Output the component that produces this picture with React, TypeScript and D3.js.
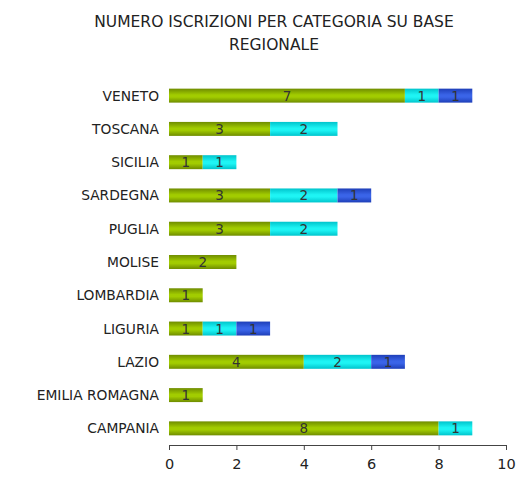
import React, { useEffect, useRef } from "react";
import * as d3 from "d3";

const regions = [
  "VENETO",
  "TOSCANA",
  "SICILIA",
  "SARDEGNA",
  "PUGLIA",
  "MOLISE",
  "LOMBARDIA",
  "LIGURIA",
  "LAZIO",
  "EMILIA ROMAGNA",
  "CAMPANIA",
];
const seriesA = [7, 3, 1, 3, 3, 2, 1, 1, 4, 1, 8];
const seriesB = [1, 2, 1, 2, 2, 0, 0, 1, 2, 0, 1];
const seriesC = [1, 0, 0, 1, 0, 0, 0, 1, 1, 0, 0];
const xTicks = [0, 2, 4, 6, 8, 10];

const colors = [
  { id: "gA", edge: "#6f8c00", mid: "#a2cc00" },
  { id: "gB", edge: "#00c4cc", mid: "#1ef4f4" },
  { id: "gC", edge: "#1e3fb8", mid: "#3a64e8" },
];

const App: React.FC = () => {
  const svgRef = useRef<SVGSVGElement>(null);

  useEffect(() => {
    if (!svgRef.current) return;
    const svg = d3.select(svgRef.current);
    svg.selectAll("*").remove();

    const margin = { top: 79, left: 169 };
    const axisY = 445;
    const font = "'DejaVu Sans', Verdana, sans-serif";

    // gradients for the bars (dark edges, lighter middle)
    const defs = svg.append("defs");
    colors.forEach((c) => {
      const g = defs
        .append("linearGradient")
        .attr("id", c.id)
        .attr("x1", 0)
        .attr("y1", 0)
        .attr("x2", 0)
        .attr("y2", 1);
      g.append("stop").attr("offset", "0%").attr("stop-color", c.edge);
      g.append("stop").attr("offset", "45%").attr("stop-color", c.mid);
      g.append("stop").attr("offset", "60%").attr("stop-color", c.mid);
      g.append("stop").attr("offset", "100%").attr("stop-color", c.edge);
    });

    const x = d3.scaleLinear().domain([0, 10]).range([margin.left, 506]);
    const y = d3
      .scaleBand()
      .domain(regions)
      .range([margin.top, axisY])
      .paddingInner(0.58)
      .paddingOuter(0.29);

    // title
    const title = svg
      .append("text")
      .attr("text-anchor", "middle")
      .attr("font-family", font)
      .attr("font-size", 15.5)
      .attr("fill", "#222");
    title.append("tspan").attr("x", 274).attr("y", 27).text("NUMERO ISCRIZIONI PER CATEGORIA SU BASE");
    title.append("tspan").attr("x", 274).attr("y", 50).text("REGIONALE");

    const series = [seriesA, seriesB, seriesC];
    const rows = regions.map((r, i) => {
      let acc = 0;
      return series.map((s, k) => {
        const seg = { region: r, k, x0: acc, x1: acc + s[i], v: s[i] };
        acc += s[i];
        return seg;
      });
    });

    const segs = rows.flat().filter((d) => d.v > 0);

    svg
      .append("g")
      .selectAll("rect")
      .data(segs)
      .enter()
      .append("rect")
      .attr("x", (d) => x(d.x0))
      .attr("y", (d) => y(d.region)!)
      .attr("width", (d) => x(d.x1) - x(d.x0))
      .attr("height", y.bandwidth())
      .attr("fill", (d) => `url(#${colors[d.k].id})`);

    svg
      .append("g")
      .selectAll("text")
      .data(segs)
      .enter()
      .append("text")
      .attr("x", (d) => (x(d.x0) + x(d.x1)) / 2)
      .attr("y", (d) => y(d.region)! + y.bandwidth() / 2)
      .attr("dy", "0.37em")
      .attr("text-anchor", "middle")
      .attr("font-family", font)
      .attr("font-size", 13.5)
      .attr("fill", "#333")
      .text((d) => d.v);

    // category labels
    svg
      .append("g")
      .selectAll("text")
      .data(regions)
      .enter()
      .append("text")
      .attr("x", 159)
      .attr("y", (d) => y(d)! + y.bandwidth() / 2)
      .attr("dy", "0.36em")
      .attr("text-anchor", "end")
      .attr("font-family", font)
      .attr("font-size", 13.8)
      .attr("fill", "#222")
      .text((d) => d);

    // x axis
    const axis = svg
      .append("g")
      .attr("transform", `translate(0, ${axisY})`)
      .call(d3.axisBottom(x).tickValues(xTicks).tickSize(5).tickPadding(9));
    axis.select(".domain").attr("stroke", "#444");
    axis.selectAll(".tick line").attr("stroke", "#444");
    axis
      .selectAll(".tick text")
      .attr("font-family", font)
      .attr("font-size", 14.5)
      .attr("fill", "#222");
  }, []);

  return (
    <svg
      ref={svgRef}
      width={517}
      height={477}
      style={{ position: "absolute", left: 0, top: 0 }}
    ></svg>
  );
};

export default App;
